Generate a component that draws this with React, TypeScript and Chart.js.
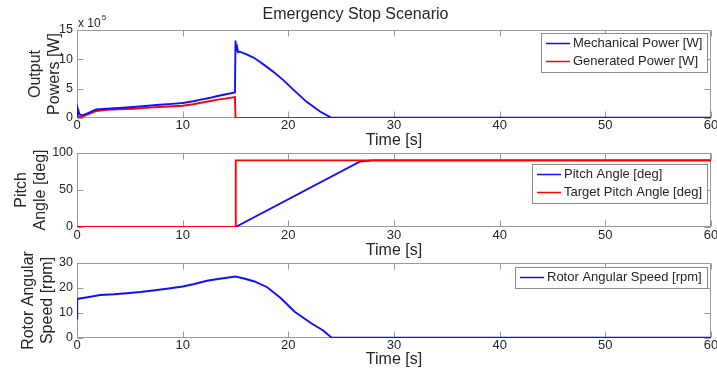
import React, { useEffect, useRef } from "react";
import { Chart, registerables } from "chart.js";

Chart.register(...registerables);

// ---------- data ----------
const timeRange = [0, 60];
const timeStep = 10;

// Output powers, in units of 10^5 W
const mechTime = [0, 0.05, 0.25, 0.55, 1.2, 1.8, 2.8, 4, 5.3, 6.5, 7.8, 9, 10, 11, 11.6, 12.5, 13.2, 14, 14.95, 15.0, 15.05, 15.15, 15.25, 15.4, 16, 16.7, 17.3, 17.9, 18.7, 19.5, 20.5, 21.7, 23, 24, 30, 40, 50, 60];
const mechPower = [0.3, 1.7, 0.6, 0.45, 0.96, 1.45, 1.58, 1.7, 1.87, 2.05, 2.26, 2.4, 2.55, 2.85, 3.1, 3.4, 3.7, 4.0, 4.36, 13.2, 11.5, 12.1, 11.2, 11.3, 10.9, 10.3, 9.6, 8.8, 7.7, 6.5, 4.8, 2.8, 1.1, 0.1, 0.05, 0.05, 0.05, 0.05];
const genTime = [0, 0.4, 1.2, 1.8, 2.8, 4, 5.3, 6.5, 7.8, 9, 10, 11, 11.6, 12.5, 13.2, 14, 14.95, 15.0, 60];
const genPower = [0.28, 0.17, 0.74, 1.19, 1.4, 1.5, 1.58, 1.72, 1.87, 2.0, 2.1, 2.35, 2.55, 2.85, 3.1, 3.3, 3.55, 0, 0];

// Pitch angles, deg
const pitchTime = [0, 15, 26.8, 28, 60];
const pitchAngle = [0, 0, 88.6, 90, 90];
const targetTime = [0, 15, 15.02, 60];
const targetAngle = [0, 0, 90, 90];

// Rotor angular speed, rpm
const speedTime = [0, 0.02, 0.1, 1, 2.2, 3.5, 4.7, 6, 7.2, 8.5, 10, 11, 12.3, 13.5, 15, 15.8, 16.8, 18, 19.3, 20.6, 22.2, 23.3, 24.1, 60];
const rotorSpeed = [7.8, 15.5, 15.7, 16.3, 17.2, 17.5, 17.9, 18.4, 19.0, 19.7, 20.6, 21.5, 22.9, 23.7, 24.6, 23.8, 22.6, 20.3, 15.9, 10.5, 5.8, 3.0, 0.1, 0.1];

const powerTicks = [0, 15, 5];
const pitchTicks = [0, 100, 50];
const speedTicks = [0, 30, 10];

// ---------- styling ----------
const FONT = "'Liberation Sans', Arial, Helvetica, sans-serif";
const TEXT = "#262626";
const AXIS = "#9a9a9a";
const BLUE = "#1010ff";
const RED = "#ff0000";

const pts = (xs: number[], ys: number[]) => xs.map((x, i) => ({ x, y: ys[i] }));

const framePlugin = {
  id: "matlabFrame",
  beforeDatasetsDraw(chart: any) {
    const { ctx, chartArea: a, scales } = chart;
    ctx.save();
    ctx.strokeStyle = AXIS;
    ctx.lineWidth = 1;
    const L = Math.round(a.left) + 0.5;
    const R = Math.round(a.right) - 0.5;
    const T = Math.round(a.top) + 0.5;
    const B = Math.round(a.bottom) - 0.5;
    ctx.strokeRect(L, T, R - L, B - T);
    const len = 6;
    ctx.beginPath();
    scales.x.ticks.forEach((t: any) => {
      const px = Math.round(scales.x.getPixelForValue(t.value)) + 0.5;
      ctx.moveTo(px, B);
      ctx.lineTo(px, B - len);
      ctx.moveTo(px, T);
      ctx.lineTo(px, T + len);
    });
    scales.y.ticks.forEach((t: any) => {
      const py = Math.round(scales.y.getPixelForValue(t.value)) + 0.5;
      ctx.moveTo(L, py);
      ctx.lineTo(L + len, py);
      ctx.moveTo(R, py);
      ctx.lineTo(R - len, py);
    });
    ctx.stroke();
    ctx.restore();
  },
};

const legendPlugin = {
  id: "matlabLegend",
  afterDraw(chart: any, _args: any, opts: any) {
    const { ctx, chartArea: a } = chart;
    const ds = chart.data.datasets;
    ctx.save();
    ctx.font = `13px ${FONT}`;
    const textW = Math.max(...ds.map((d: any) => ctx.measureText(d.label).width));
    const w = Math.round(32 + textW + 5);
    const rowH = 18;
    const h = ds.length * rowH + 3;
    const right = Math.round(a.right) - 4;
    const left = right - w;
    const top = Math.round(a.top) + (opts.offsetY || 0);
    ctx.fillStyle = "#ffffff";
    ctx.fillRect(left, top, w, h);
    ctx.strokeStyle = "#8a8a8a";
    ctx.lineWidth = 1;
    ctx.strokeRect(left + 0.5, top + 0.5, w, h);
    ds.forEach((d: any, i: number) => {
      const cy = top + 10.5 + i * rowH;
      ctx.strokeStyle = d.borderColor;
      ctx.lineWidth = 1.5;
      ctx.beginPath();
      ctx.moveTo(left + 5, cy);
      ctx.lineTo(left + 29, cy);
      ctx.stroke();
      ctx.fillStyle = TEXT;
      ctx.textBaseline = "middle";
      ctx.textAlign = "left";
      ctx.fillText(d.label, left + 32, cy);
    });
    ctx.restore();
  },
};

const exponentPlugin = {
  id: "exponentLabel",
  afterDraw(chart: any, _args: any, opts: any) {
    if (!opts || !opts.show) return;
    const { ctx, chartArea: a } = chart;
    ctx.save();
    ctx.fillStyle = TEXT;
    ctx.textBaseline = "alphabetic";
    ctx.textAlign = "left";
    ctx.font = `12px ${FONT}`;
    const x0 = Math.round(a.left) + 1;
    ctx.fillText("x 10", x0, a.top - 3);
    const w = ctx.measureText("x 10").width;
    ctx.font = `8px ${FONT}`;
    ctx.fillText("5", x0 + w + 1, a.top - 10);
    ctx.restore();
  },
};

type PanelOpts = {
  datasets: any[];
  yTicks: number[];
  yTitle: string[];
  yTitlePad: number;
  padTop: number;
  padBottom: number;
  xHeight: number;
  tickPad: number;
  legendOffset: number;
  title?: string;
  exponent?: boolean;
};

function makeConfig(o: PanelOpts): any {
  return {
    type: "line",
    data: { datasets: o.datasets },
    plugins: [framePlugin, legendPlugin, exponentPlugin],
    options: {
      responsive: false,
      animation: false,
      layout: { padding: { left: 0, right: 6, top: o.padTop, bottom: o.padBottom } },
      elements: { point: { radius: 0 }, line: { tension: 0 } },
      plugins: {
        legend: { display: false },
        tooltip: { enabled: false },
        title: o.title
          ? {
              display: true,
              text: o.title,
              color: TEXT,
              font: { family: FONT, size: 16, weight: "normal" },
              padding: { top: 5, bottom: 5.8 },
            }
          : { display: false },
        matlabLegend: { offsetY: o.legendOffset },
        exponentLabel: { show: !!o.exponent },
      },
      scales: {
        x: {
          type: "linear",
          min: timeRange[0],
          max: timeRange[1],
          grid: { display: false, drawTicks: false, tickLength: 0 },
          border: { display: false },
          ticks: {
            stepSize: timeStep,
            color: TEXT,
            font: { family: FONT, size: 13 },
            padding: o.tickPad,
            maxRotation: 0,
            autoSkip: false,
          },
          title: {
            display: true,
            text: "Time [s]",
            color: TEXT,
            font: { family: FONT, size: 16 },
            padding: { top: 0, bottom: 0 },
          },
          afterFit: (s: any) => {
            s.height = o.xHeight;
            s.paddingLeft = 0;
            s.paddingRight = 0;
          },
        },
        y: {
          type: "linear",
          min: o.yTicks[0],
          max: o.yTicks[1],
          grid: { display: false, drawTicks: false, tickLength: 0 },
          border: { display: false },
          ticks: {
            stepSize: o.yTicks[2],
            color: TEXT,
            font: { family: FONT, size: 12.5 },
            padding: 4,
          },
          title: {
            display: true,
            text: o.yTitle,
            color: TEXT,
            font: { family: FONT, size: 16, lineHeight: 1.2 },
            padding: { top: o.yTitlePad, bottom: 0 },
          },
          afterFit: (s: any) => {
            s.width = 77;
            s.paddingTop = 0;
            s.paddingBottom = 0;
          },
        },
      },
    },
  };
}

const lineDs = (label: string, color: string, xs: number[], ys: number[], order: number) => ({
  label,
  data: pts(xs, ys),
  borderColor: color,
  backgroundColor: color,
  borderWidth: 1.9,
  fill: false,
  order,
});

export default function App() {
  const r1 = useRef<HTMLCanvasElement>(null);
  const r2 = useRef<HTMLCanvasElement>(null);
  const r3 = useRef<HTMLCanvasElement>(null);

  useEffect(() => {
    document.body.style.margin = "0";
    const c1 = new Chart(
      r1.current as HTMLCanvasElement,
      makeConfig({
        datasets: [
          lineDs("Mechanical Power [W]", BLUE, mechTime, mechPower, 0),
          lineDs("Generated Power [W]", RED, genTime, genPower, 1),
        ],
        yTicks: powerTicks,
        yTitle: ["Output", "Powers [W]"],
        yTitlePad: 26,
        padTop: 0,
        padBottom: 0,
        xHeight: 32,
        tickPad: 0,
        legendOffset: 3,
        title: "Emergency Stop Scenario",
        exponent: true,
      })
    );
    const c2 = new Chart(
      r2.current as HTMLCanvasElement,
      makeConfig({
        datasets: [
          lineDs("Pitch Angle [deg]", BLUE, pitchTime, pitchAngle, 1),
          lineDs("Target Pitch Angle [deg]", RED, targetTime, targetAngle, 0),
        ],
        yTicks: pitchTicks,
        yTitle: ["Pitch", "Angle [deg]"],
        yTitlePad: 12,
        padTop: 25,
        padBottom: 0,
        xHeight: 33,
        tickPad: 1,
        legendOffset: 11,
      })
    );
    const c3 = new Chart(
      r3.current as HTMLCanvasElement,
      makeConfig({
        datasets: [lineDs("Rotor Angular Speed [rpm]", BLUE, speedTime, rotorSpeed, 0)],
        yTicks: speedTicks,
        yTitle: ["Rotor Angular", "Speed [rpm]"],
        yTitlePad: 19,
        padTop: 23,
        padBottom: 7,
        xHeight: 31,
        tickPad: 0,
        legendOffset: 4,
      })
    );
    return () => {
      c1.destroy();
      c2.destroy();
      c3.destroy();
    };
  }, []);

  return (
    <div style={{ position: "absolute", left: 0, top: 0, width: 717, height: 376, background: "#ffffff" }}>
      <canvas ref={r1} width={717} height={150} style={{ position: "absolute", left: 0, top: 0 }} />
      <canvas ref={r2} width={717} height={132} style={{ position: "absolute", left: 0, top: 128 }} />
      <canvas ref={r3} width={717} height={136} style={{ position: "absolute", left: 0, top: 240 }} />
    </div>
  );
}
